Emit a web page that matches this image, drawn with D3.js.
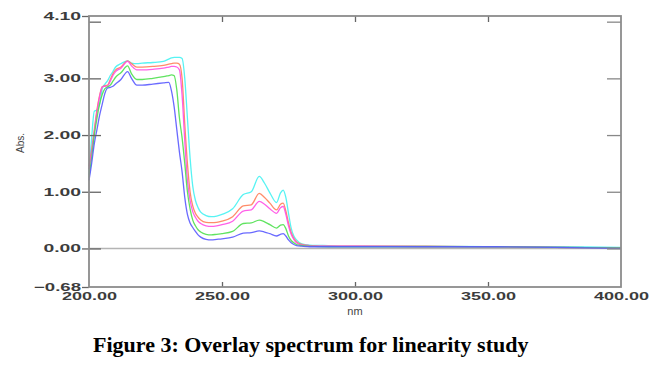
<!DOCTYPE html>
<html lang="en">

<head>
    <meta charset="UTF-8">
    <title>Overlay spectrum for linearity study</title>
    <style>
        * {
            margin: 0;
            padding: 0;
        }

        html,
        body {
            overflow: hidden;
            background: #fff;
        }
    </style>
</head>

<body>
    <div id="chart"></div>
    <script src="https://cdn.jsdelivr.net/npm/d3@7"></script>
    <script>
        // wavelength (nm) shared by all five scans
        const wavelengths = [200, 201, 202, 203, 204, 205, 206, 207, 208, 209, 210, 212, 214.5, 216, 218, 220, 224, 228,
            230, 231, 232, 233, 234, 235, 236, 237, 238, 239, 240, 241, 242, 244, 246, 248, 250, 254, 258, 261, 264,
            266, 268, 270.5, 272, 273, 274, 275, 276, 277, 278, 280, 283, 290, 300, 325, 350, 375, 400]

        // absorbance, one list per concentration
        const absCyan = [1.30, 1.95, 2.42, 2.44, 2.55, 2.82, 2.90, 2.96, 3.05, 3.12, 3.20, 3.26, 3.31, 3.27, 3.26, 3.27, 3.28, 3.30,
            3.34, 3.36, 3.37, 3.37, 3.37, 3.35, 3.00, 2.30, 1.60, 1.10, 0.85, 0.72, 0.64, 0.58, 0.56, 0.57, 0.60, 0.70, 0.95, 1.00, 1.27,
            1.15, 0.98, 0.81, 0.98, 1.03, 0.90, 0.62, 0.36, 0.22, 0.15, 0.08, 0.06, 0.05, 0.04, 0.04, 0.03, 0.03, 0.02]
        const absOrange = [1.45, 1.75, 2.10, 2.45, 2.70, 2.85, 2.87, 2.88, 2.98, 3.08, 3.15, 3.20, 3.31, 3.26, 3.20, 3.20, 3.21, 3.23,
            3.25, 3.26, 3.27, 3.27, 3.25, 3.00, 2.20, 1.50, 1.00, 0.75, 0.62, 0.55, 0.50, 0.46, 0.455, 0.46, 0.48, 0.56, 0.75, 0.77, 0.97,
            0.90, 0.80, 0.68, 0.78, 0.80, 0.66, 0.45, 0.28, 0.18, 0.12, 0.07, 0.05, 0.04, 0.04, 0.04, 0.03, 0.02, 0.01]
        const absMagenta = [1.40, 1.70, 2.05, 2.40, 2.68, 2.85, 2.86, 2.87, 2.95, 3.05, 3.12, 3.18, 3.30, 3.22, 3.15, 3.15, 3.16, 3.18,
            3.20, 3.21, 3.21, 3.20, 3.15, 2.70, 1.90, 1.20, 0.85, 0.65, 0.55, 0.48, 0.44, 0.40, 0.39, 0.40, 0.42, 0.48, 0.66, 0.68, 0.83,
            0.78, 0.70, 0.62, 0.72, 0.74, 0.60, 0.40, 0.25, 0.16, 0.10, 0.06, 0.05, 0.04, 0.04, 0.03, 0.03, 0.02, 0.01]
        const absGreen = [1.25, 1.60, 2.00, 2.30, 2.55, 2.72, 2.82, 2.85, 2.88, 2.95, 3.02, 3.10, 3.22, 3.08, 2.98, 2.98, 3.00, 3.03,
            3.05, 3.06, 3.05, 2.80, 2.30, 1.95, 1.50, 1.00, 0.70, 0.50, 0.40, 0.33, 0.29, 0.25, 0.24, 0.25, 0.26, 0.30, 0.44, 0.45, 0.50,
            0.47, 0.42, 0.36, 0.41, 0.42, 0.35, 0.22, 0.14, 0.10, 0.07, 0.05, 0.04, 0.03, 0.03, 0.03, 0.03, 0.02, 0.01]
        const absBlue = [1.20, 1.50, 1.85, 2.10, 2.35, 2.55, 2.74, 2.83, 2.84, 2.86, 2.90, 2.98, 3.12, 3.00, 2.88, 2.88, 2.90, 2.92,
            2.93, 2.78, 2.50, 2.10, 1.70, 1.35, 0.90, 0.60, 0.45, 0.37, 0.30, 0.24, 0.20, 0.16, 0.15, 0.16, 0.17, 0.20, 0.27, 0.28, 0.31,
            0.29, 0.26, 0.22, 0.25, 0.26, 0.22, 0.15, 0.10, 0.07, 0.05, 0.04, 0.03, 0.03, 0.03, 0.03, 0.03, 0.02, 0.00]

        const seriesColors = ['#45f2f2', '#ff7f5a', '#ff4fe6', '#4fe04f', '#5a5aff']

        // axis values
        const xDomain = [200, 400]
        const yDomain = [-0.68, 4.10]
        const xTickLabels = [200, 250, 300, 350, 400]
        const xInnerTicks = [250, 300, 350]
        const yTickLabels = [-0.68, 0, 1, 2, 3, 4.10]
        const yInnerTicks = [0, 1, 2, 3, 4]

        function drawChart() {
            const width = 656
            const height = 374
            const margin = { top: 16, right: 35, bottom: 87, left: 89 }
            const innerW = width - margin.left - margin.right
            const innerH = height - margin.top - margin.bottom

            const svg = d3.select('#chart')
                .append('svg')
                .attr('width', width)
                .attr('height', height)
                .style('background', '#fff')

            const g = svg.append('g')
                .attr('transform', `translate(${margin.left},${margin.top})`)

            const x = d3.scaleLinear().domain(xDomain).range([0, innerW])
            const y = d3.scaleLinear().domain(yDomain).range([innerH, 0])

            // zero baseline
            g.append('line')
                .attr('x1', 0)
                .attr('x2', innerW)
                .attr('y1', y(0))
                .attr('y2', y(0))
                .attr('stroke', '#b4b4b4')
                .attr('stroke-width', 1.6)

            // spectra
            const allSeries = [absCyan, absOrange, absMagenta, absGreen, absBlue]
            const line = d3.line()
                .x(d => x(d[0]))
                .y(d => y(d[1]))
                .curve(d3.curveMonotoneX)

            g.selectAll('path.scan')
                .data(allSeries)
                .join('path')
                .attr('class', 'scan')
                .attr('d', vals => line(wavelengths.map((w, i) => [w, vals[i]])))
                .attr('fill', 'none')
                .attr('stroke', (d, i) => seriesColors[i])
                .attr('stroke-width', 1.3)
                .attr('stroke-opacity', 0.9)

            const labelFont = 'Arial, "Liberation Sans", sans-serif'

            // left axis: labels with short outer ticks
            const yAxis = g.append('g')
                .call(d3.axisLeft(y).tickValues(yTickLabels).tickFormat(d3.format('.2f')).tickSize(7).tickSizeOuter(0))
            yAxis.select('.domain').remove()
            yAxis.selectAll('line').attr('stroke', '#666').attr('stroke-width', 1.3)
            yAxis.selectAll('text')
                .attr('x', -8)
                .attr('fill', '#3c3c3c')
                .style('font-family', labelFont)
                .style('font-size', '11px')
                .style('font-weight', 'bold')
                .attr('textLength', function () { return this.textContent.length * 9.4 })
                .attr('lengthAdjust', 'spacingAndGlyphs')

            // inner ticks on left and right
            g.append('g')
                .call(d3.axisLeft(y).tickValues(yInnerTicks).tickSize(-12).tickFormat(''))
                .call(s => s.select('.domain').remove())
                .selectAll('line').attr('stroke', '#666').attr('stroke-width', 1.3)
            g.append('g')
                .attr('transform', `translate(${innerW},0)`)
                .call(d3.axisRight(y).tickValues(yInnerTicks).tickSize(-14).tickFormat(''))
                .call(s => s.select('.domain').remove())
                .selectAll('line').attr('stroke', '#888').attr('stroke-width', 1.3)

            // bottom axis labels
            const xAxis = g.append('g')
                .attr('transform', `translate(0,${innerH})`)
                .call(d3.axisBottom(x).tickValues(xTickLabels).tickFormat(d3.format('.2f')).tickSize(0))
            xAxis.select('.domain').remove()
            xAxis.selectAll('text')
                .attr('y', 5)
                .attr('dy', '0.71em')
                .attr('fill', '#3c3c3c')
                .style('font-family', labelFont)
                .style('font-size', '11px')
                .style('font-weight', 'bold')
                .attr('textLength', function () { return this.textContent.length * 9.2 })
                .attr('lengthAdjust', 'spacingAndGlyphs')

            // inner x ticks bottom and top
            g.append('g')
                .attr('transform', `translate(0,${innerH})`)
                .call(d3.axisBottom(x).tickValues(xInnerTicks).tickSize(-5).tickFormat(''))
                .call(s => s.select('.domain').remove())
                .selectAll('line').attr('stroke', '#666').attr('stroke-width', 1.3)
            g.append('g')
                .call(d3.axisTop(x).tickValues(xInnerTicks).tickSize(-6).tickFormat(''))
                .call(s => s.select('.domain').remove())
                .selectAll('line').attr('stroke', '#666').attr('stroke-width', 1.3)

            // frame
            g.append('rect')
                .attr('width', innerW)
                .attr('height', innerH)
                .attr('fill', 'none')
                .attr('stroke', '#8c8c8c')
                .attr('stroke-width', 1.8)

            // axis titles
            g.append('text')
                .attr('x', innerW / 2)
                .attr('y', innerH + 28)
                .attr('text-anchor', 'middle')
                .attr('fill', '#444')
                .style('font-family', labelFont)
                .style('font-size', '11px')
                .text('nm')

            svg.append('text')
                .attr('transform', 'translate(24,143) rotate(-90)')
                .attr('text-anchor', 'middle')
                .attr('fill', '#444')
                .style('font-family', labelFont)
                .style('font-size', '10px')
                .text('Abs.')

            // caption
            svg.append('text')
                .attr('x', 93)
                .attr('y', 352)
                .attr('fill', '#000')
                .style('font-family', '"Times New Roman", "Liberation Serif", serif')
                .style('font-size', '22px')
                .style('font-weight', 'bold')
                .text('Figure 3: Overlay spectrum for linearity study')
        }

        drawChart()
    </script>
</body>

</html>
